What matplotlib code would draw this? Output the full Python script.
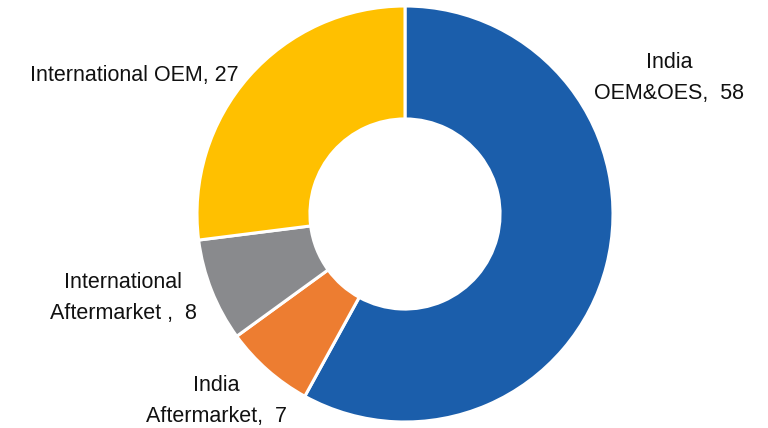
import matplotlib.pyplot as plt
from matplotlib import font_manager

# segment data, clockwise from 12 o'clock
segments = ['India OEM&OES', 'India Aftermarket', 'International Aftermarket', 'International OEM']
shares = [58, 7, 8, 27]
labels = ['India\nOEM&OES,  58', 'India\nAftermarket,  7',
          'International\nAftermarket ,  8', 'International OEM, 27']
colors = ['#1B5EAB', '#ED7D31', '#898A8D', '#FFC000']

names = {f.name for f in font_manager.fontManager.ttflist}
family = 'Liberation Sans Narrow' if 'Liberation Sans Narrow' in names else 'Liberation Sans'

fig = plt.figure(figsize=(7.68, 4.28), dpi=100)
ax = fig.add_axes([0, 0, 1, 1])

radius = 208
ax.pie(shares, colors=colors, startangle=90, counterclock=False,
       center=(405, 214), radius=radius,
       wedgeprops=dict(width=radius * 0.543, edgecolor='white', linewidth=2.2))
ax.set_xlim(0, 768)
ax.set_ylim(0, 428)
ax.set_aspect('equal')
ax.axis('off')

# label positions (pixels, y up)
label_pos = [(669, 350), (216, 27), (123, 130), (134, 353)]
for text, (x, y) in zip(labels, label_pos):
    ax.text(x, y, text, ha='center', va='center', fontsize=15.5, family=family,
            color='#111111', linespacing=1.6)

fig.savefig('out.png', dpi=100)
